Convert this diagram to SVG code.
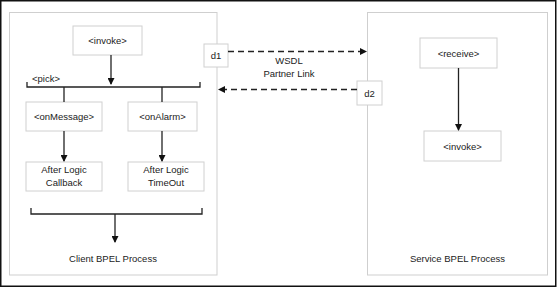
<svg xmlns="http://www.w3.org/2000/svg" width="557" height="288" viewBox="0 0 557 288">
<defs>
<marker id="ah" markerWidth="7" markerHeight="7" refX="6" refY="3.5" orient="auto" markerUnits="userSpaceOnUse">
<path d="M0,0 L7,3.5 L0,7 Z" fill="#111"/>
</marker>
<style>
.frame{fill:#fff;stroke:#111;stroke-width:1.5}
.proc{fill:#fff;stroke:#cfcfcf;stroke-width:1}
.box{fill:#fff;stroke:#d0d0d0;stroke-width:1}
.t{font-family:"Liberation Sans",Arial,sans-serif;font-size:9.5px;fill:#222;text-anchor:middle;dominant-baseline:central}
.ln{fill:none;stroke:#222;stroke-width:1.3}
.arr{fill:none;stroke:#222;stroke-width:1.3;marker-end:url(#ah)}
.dash{fill:none;stroke:#222;stroke-width:1.3;stroke-dasharray:6 4;marker-end:url(#ah)}
</style>
</defs>
<rect class="frame" x="0.75" y="0.75" width="555" height="285.5"/>
<g id="client">
<rect class="proc" x="9.5" y="12.5" width="207.5" height="262.5"/>
<text class="t" x="113" y="258">Client BPEL Process</text>
</g>
<g id="service">
<rect class="proc" x="367.5" y="12.5" width="180" height="262.5"/>
<text class="t" x="457.5" y="258">Service BPEL Process</text>
</g>
<g id="invoke1">
<rect class="box" x="73" y="26" width="69" height="29"/>
<text class="t" x="107.5" y="40.5">&lt;invoke&gt;</text>
</g>
<g id="pick">
<text class="t" x="32" y="78" style="text-anchor:start">&lt;pick&gt;</text>
</g>
<g id="onMessage">
<rect class="box" x="26" y="102" width="76" height="29"/>
<text class="t" x="64" y="116.5">&lt;onMessage&gt;</text>
</g>
<g id="onAlarm">
<rect class="box" x="128" y="102" width="69" height="29"/>
<text class="t" x="162.5" y="116.5">&lt;onAlarm&gt;</text>
</g>
<g id="callback">
<rect class="box" x="26" y="162" width="76" height="29"/>
<text class="t" x="64" y="169.5">After Logic</text>
<text class="t" x="64" y="182.5">Callback</text>
</g>
<g id="timeout">
<rect class="box" x="128" y="162" width="76" height="29"/>
<text class="t" x="166" y="169.5">After Logic</text>
<text class="t" x="166" y="182.5">TimeOut</text>
</g>
<g id="d1">
<rect class="box" x="204" y="44" width="24" height="23"/>
<text class="t" x="216" y="55.5">d1</text>
</g>
<g id="d2">
<rect class="box" x="357" y="81" width="25" height="24"/>
<text class="t" x="369.5" y="93">d2</text>
</g>
<g id="receive">
<rect class="box" x="420" y="38" width="77" height="30"/>
<text class="t" x="458.5" y="53">&lt;receive&gt;</text>
</g>
<g id="invoke2">
<rect class="box" x="424" y="131" width="77" height="30"/>
<text class="t" x="462.5" y="146">&lt;invoke&gt;</text>
</g>
<g id="connectors">
<path class="arr" d="M111,55 V84"/>
<path class="ln" d="M27,82 V87 H200 V82"/>
<path class="ln" d="M64,87 V102"/>
<path class="ln" d="M162,87 V102"/>
<path class="arr" d="M64,131 V161"/>
<path class="arr" d="M162,131 V161"/>
<path class="ln" d="M31,208 V214 H202 V208"/>
<path class="arr" d="M115,214 V242"/>
<path class="dash" d="M228,51.5 H366"/>
<path class="dash" d="M357,89.5 H219"/>
<path class="arr" d="M458.5,68 V130"/>
<text class="t" x="289" y="60">WSDL</text>
<text class="t" x="289" y="73">Partner Link</text>
</g>
</svg>
